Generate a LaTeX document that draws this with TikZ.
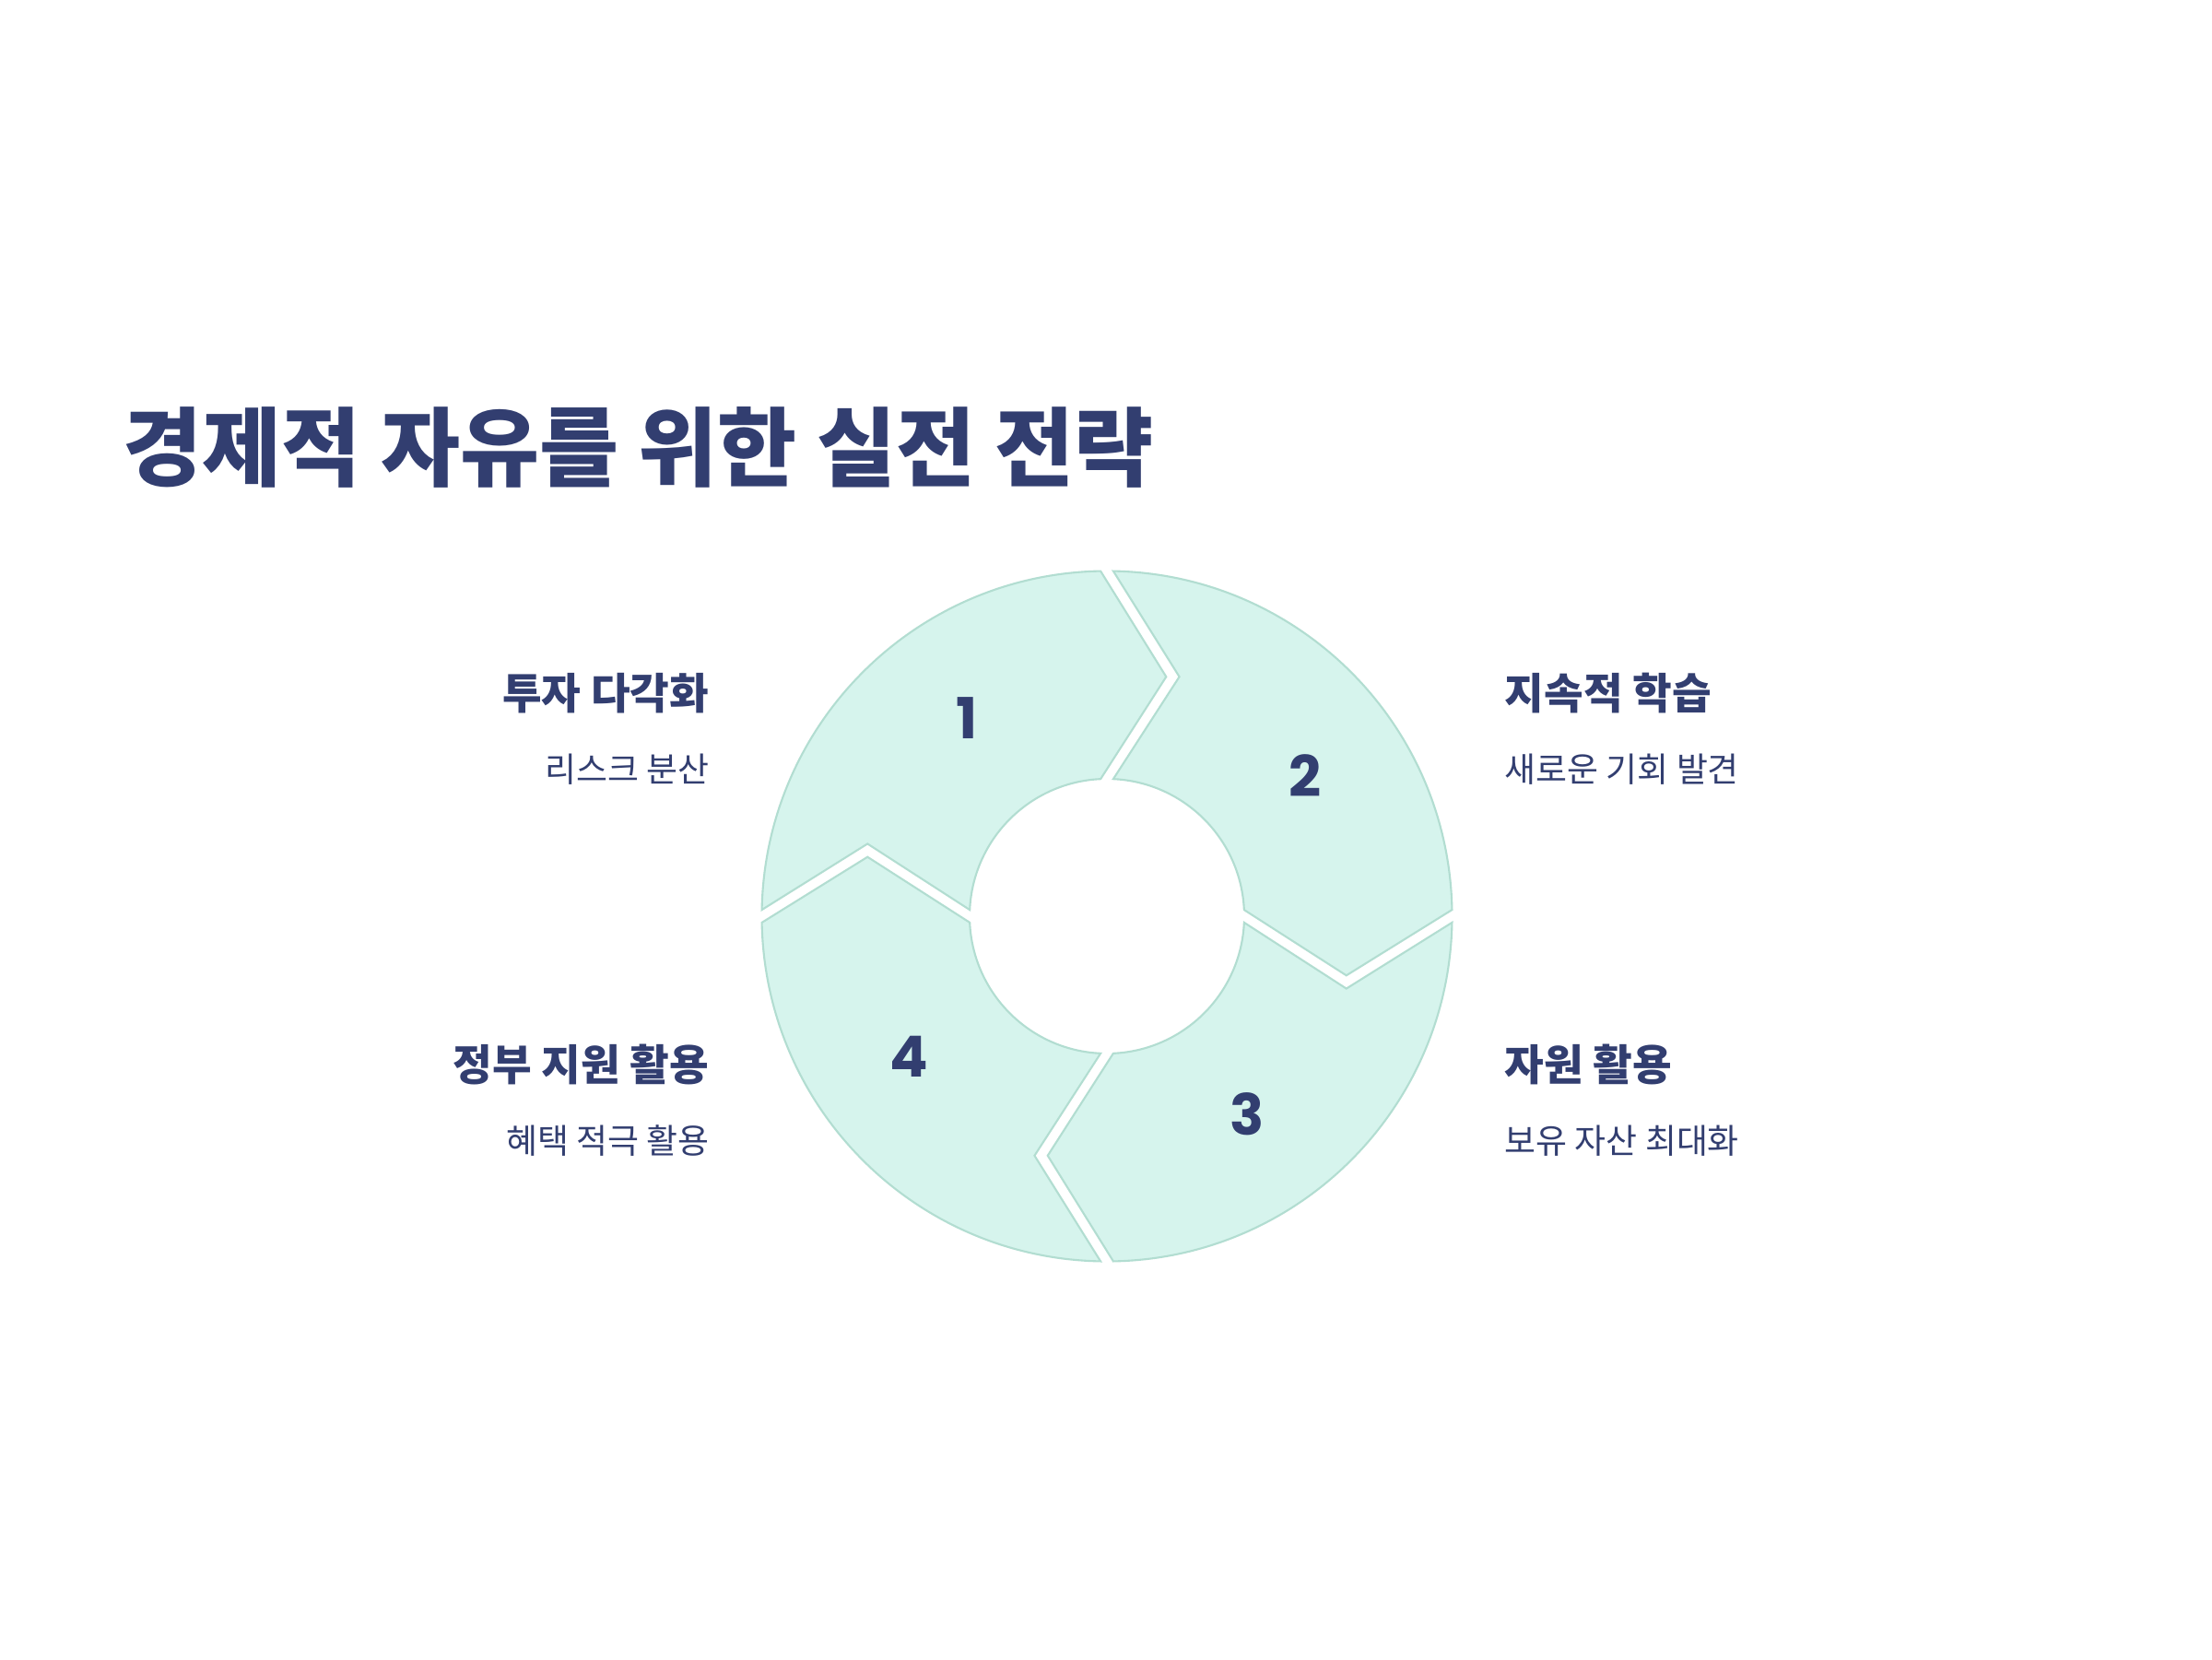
\documentclass[tikz,border=0pt]{standalone}
\usepackage{fontspec}
\setmainfont{Noto Sans CJK KR}
\newfontfamily\numfont{Poppins}
\usepackage{tikz}
\usetikzlibrary{positioning,calc}
\usepackage{xcolor}
\definecolor{navy}{RGB}{50,62,112}
\definecolor{segfill}{RGB}{214,244,237}
\definecolor{segline}{RGB}{178,221,209}

\begin{document}
\begin{tikzpicture}[
      seg/.style={draw=segline, fill=segfill, line width=0.6pt},
      num/.style={font=\numfont\bfseries\fontsize{17.5pt}{17.5pt}\selectfont, text=navy},
      title/.style={font=\bfseries\fontsize{26.6pt}{31pt}\selectfont, text=navy, inner sep=0pt, anchor=west},
      head/.style={font=\bfseries\fontsize{13.2pt}{15pt}\selectfont, text=navy, inner sep=0pt},
      sub/.style={font=\fontsize{10.5pt}{12pt}\selectfont, text=navy, inner sep=0pt},
    ]

    \fill[white] (0,0) rectangle (24,18);
    \useasboundingbox (0,0) rectangle (24,18);

    \node[title] (ttl) at (1.33,13.15) {경제적 자유를 위한 실전 전략};

    % ring of four arrow segments
    \coordinate (c) at (12.01,8.06);
    \def\R{3.745}
    \def\r{1.49}
    \begin{scope}[shift={(c)}]
      \foreach \s/\n in {180/1, 90/2, 0/3, -90/4} {
        \pgfmathsetmacro\e{\s-90}
        \draw[seg] (\s-1.06:\R) arc[start angle=\s-1.06, end angle=\e+1.06, radius=\R]
          -- (\e-13.9:2.676) -- (\e+2.65:\r)
          arc[start angle=\e+2.65, end angle=\s-2.65, radius=\r]
          -- (\s-16.83:2.714) -- cycle;
        \node[num] (n\n) at (\s-54.7:2.63) {\n};
      }
    \end{scope}

    % left labels
    \node[head, anchor=east] (h1) at (7.70,10.48) {투자 다각화};
    \node[sub, below=0.83cm of h1.east, anchor=east] (s1) {리스크 분산};
    \node[head, anchor=east] (h4) at (7.70,6.45) {정부 지원 활용};
    \node[sub, below=0.83cm of h4.east, anchor=east] (s4) {혜택 적극 활용};

    % right labels
    \node[head, anchor=west] (h2) at (16.32,10.48) {지속적 학습};
    \node[sub, below=0.83cm of h2.west, anchor=west] (s2) {새로운 기회 발견};
    \node[head, anchor=west] (h3) at (16.32,6.45) {자원 활용};
    \node[sub, below=0.83cm of h3.west, anchor=west] (s3) {보유 자산 최대화};
  \end{tikzpicture}
\end{document}
